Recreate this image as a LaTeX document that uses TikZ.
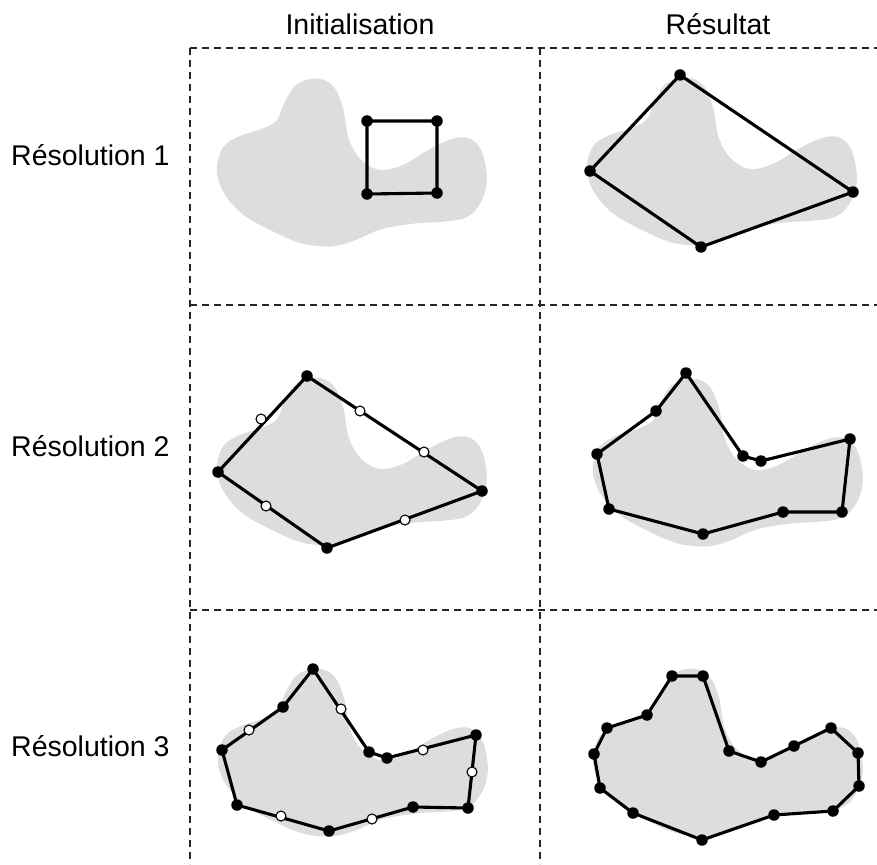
\documentclass[tikz,border=0pt]{standalone}
\usepackage{fontspec}
\setmainfont{Liberation Sans}
\definecolor{blobgray}{RGB}{220,221,223}
\begin{document}
\begin{tikzpicture}[x=1pt,y=-1pt,
  gridline/.style={dash pattern=on 7pt off 5pt, line width=1.1pt, black!85},
  blobfill/.style={fill=blobgray},
  poly/.style={line width=3.1pt, line join=round},
  bdot/.style={circle, fill=black, inner sep=0pt, minimum size=11.5pt},
  wdot/.style={circle, fill=white, draw=black, line width=1.1pt, inner sep=0pt, minimum size=10pt},
  lab/.style={font=\fontsize{28.5}{34}\selectfont, inner sep=0pt}]
\useasboundingbox (0,0) rectangle (877,864);

% grid
\coordinate (g1a) at (190,48);  \coordinate (g1b) at (877,48);
\coordinate (g2a) at (190,305); \coordinate (g2b) at (877,305);
\coordinate (g3a) at (190,610); \coordinate (g3b) at (877,610);
\coordinate (v1a) at (190,48);  \coordinate (v1b) at (190,864);
\coordinate (v2a) at (540,48);  \coordinate (v2b) at (540,864);
\draw[gridline] (g1a) -- (g1b);
\draw[gridline] (g2a) -- (g2b);
\draw[gridline] (g3a) -- (g3b);
\draw[gridline] (v1a) -- (v1b);
\draw[gridline] (v2a) -- (v2b);

% labels
\node[lab, anchor=base] (h1) at (360,35) {Initialisation};
\node[lab, anchor=base] (h2) at (718,35) {Résultat};
\node[lab, anchor=base west] (r1) at (11,165) {Résolution 1};
\node[lab, anchor=base west] (r2) at (11,456) {Résolution 2};
\node[lab, anchor=base west] (r3) at (11,756) {Résolution 3};

% blobs
\foreach \dx/\dy in {0/0,370/-1,0/299,376/300,1/590,376/590}
  \fill[blobfill, shift={(\dx,\dy)}] plot[smooth cycle, tension=0.6] coordinates {
    (217,165) (224,146) (240,136) (264,128) (277,120) (284,104) (296,85)
    (316,78.5) (333,86) (343,108) (348,136) (357,155) (371,167) (385,170)
    (405,164) (430,149) (452,139) (468,138) (480,148) (486,168) (486,188)
    (478,207) (465,218) (445,221.5) (415,223.5) (382,229) (358,239) (340,245)
    (325,246.5) (300,243) (272,231) (245,216) (228,199) (219,182)};

% cell 1
\coordinate (s1) at (367,121); \coordinate (s2) at (437,121);
\coordinate (s3) at (437,193); \coordinate (s4) at (367,194);
\draw[poly] (s1) -- (s2) -- (s3) -- (s4) -- cycle;
\foreach \n in {s1,s2,s3,s4} \node[bdot] (d-\n) at (\n) {};

% cell 2
\coordinate (t1) at (680,75); \coordinate (t2) at (853,192);
\coordinate (t3) at (701,247); \coordinate (t4) at (590,171);
\draw[poly] (t1) -- (t2) -- (t3) -- (t4) -- cycle;
\foreach \n in {t1,t2,t3,t4} \node[bdot] (d-\n) at (\n) {};

% cell 3
\coordinate (u1) at (307,376); \coordinate (u2) at (482,491);
\coordinate (u3) at (327,548); \coordinate (u4) at (218,472);
\coordinate (uo1) at (360,411); \coordinate (uo2) at (424,452);
\coordinate (uo3) at (405,520); \coordinate (uo4) at (266,506);
\coordinate (uo5) at (261,419);
\draw[poly] (u1) -- (u2) -- (u3) -- (u4) -- cycle;
\foreach \n in {u1,u2,u3,u4} \node[bdot] (d-\n) at (\n) {};
\foreach \n in {uo1,uo2,uo3,uo4,uo5} \node[wdot] (d-\n) at (\n) {};

% cell 4
\coordinate (w1) at (686,373); \coordinate (w2) at (743,456);
\coordinate (w3) at (761,461); \coordinate (w4) at (850,439);
\coordinate (w5) at (842,512); \coordinate (w6) at (783,512);
\coordinate (w7) at (703,534); \coordinate (w8) at (609,509);
\coordinate (w9) at (597,454); \coordinate (w10) at (656,411);
\draw[poly] (w1) -- (w2) -- (w3) -- (w4) -- (w5) -- (w6) -- (w7) -- (w8) -- (w9) -- (w10) -- cycle;
\foreach \n in {w1,w2,w3,w4,w5,w6,w7,w8,w9,w10} \node[bdot] (d-\n) at (\n) {};

% cell 5
\coordinate (x1) at (313,669); \coordinate (x2) at (369,752);
\coordinate (x3) at (387,758); \coordinate (x4) at (476,735);
\coordinate (x5) at (468,808); \coordinate (x6) at (413,807);
\coordinate (x7) at (329,831); \coordinate (x8) at (237,805);
\coordinate (x9) at (222,750); \coordinate (x10) at (283,707);
\coordinate (xo1) at (341,709); \coordinate (xo2) at (423,750);
\coordinate (xo3) at (472,772); \coordinate (xo4) at (372,819);
\coordinate (xo5) at (281,816); \coordinate (xo6) at (249,730);
\draw[poly] (x1) -- (x2) -- (x3) -- (x4) -- (x5) -- (x6) -- (x7) -- (x8) -- (x9) -- (x10) -- cycle;
\foreach \n in {x1,x2,x3,x4,x5,x6,x7,x8,x9,x10} \node[bdot] (d-\n) at (\n) {};
\foreach \n in {xo1,xo2,xo3,xo4,xo5,xo6} \node[wdot] (d-\n) at (\n) {};

% cell 6
\coordinate (y1) at (672,676); \coordinate (y2) at (703,676);
\coordinate (y3) at (729,751); \coordinate (y4) at (761,762);
\coordinate (y5) at (794,746); \coordinate (y6) at (831,728);
\coordinate (y7) at (858,753); \coordinate (y8) at (859,786);
\coordinate (y9) at (833,811); \coordinate (y10) at (774,815);
\coordinate (y11) at (702,840); \coordinate (y12) at (633,813);
\coordinate (y13) at (600,788); \coordinate (y14) at (594,754);
\coordinate (y15) at (607,728); \coordinate (y16) at (647,715);
\draw[poly] (y1) -- (y2) -- (y3) -- (y4) -- (y5) -- (y6) -- (y7) -- (y8) -- (y9) -- (y10) -- (y11) -- (y12) -- (y13) -- (y14) -- (y15) -- (y16) -- cycle;
\foreach \n in {y1,y2,y3,y4,y5,y6,y7,y8,y9,y10,y11,y12,y13,y14,y15,y16} \node[bdot] (d-\n) at (\n) {};
\end{tikzpicture}
\end{document}
